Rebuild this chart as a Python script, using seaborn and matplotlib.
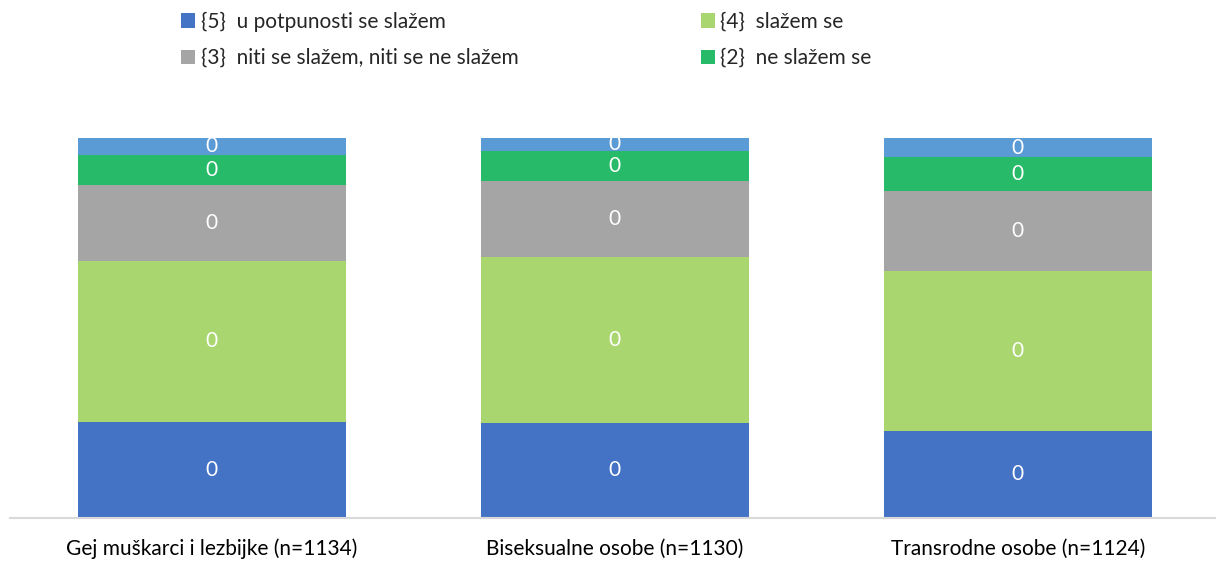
import matplotlib
matplotlib.use("Agg")
import matplotlib.pyplot as plt
import seaborn as sns
import pandas as pd
from matplotlib.patches import Patch

categories = ["Gej muškarci i lezbijke (n=1134)", "Biseksualne osobe (n=1130)", "Transrodne osobe (n=1124)"]
series_names = ["{5}  u potpunosti se slažem", "{4}  slažem se",
                "{3}  niti se slažem, niti se ne slažem", "{2}  ne slažem se", "{1}"]
v5 = [25.3, 25.0, 22.9]
v4 = [42.4, 43.7, 42.1]
v3 = [20.0, 20.0, 21.1]
v2 = [7.9, 7.9, 8.9]
v1 = [4.4, 3.4, 5.0]
data_labels = ["0", "0", "0"]

colors = ["#4472C4", "#A9D66F", "#A5A5A5", "#27BB69", "#5B9BD5"]

sns.set_theme(style="white")
plt.rcParams["font.family"] = ["Lato", "DejaVu Sans"]

fig = plt.figure(figsize=(12.16, 5.62), dpi=100)
ax = fig.add_axes([10/1216, 44/562, 1206/1216, 380/562])

values = [v5, v4, v3, v2, v1]
bottom = [0.0, 0.0, 0.0]
for name, vals, col in zip(series_names, values, colors):
    df = pd.DataFrame({"cat": categories, "val": vals})
    sns.barplot(data=df, x="cat", y="val", color=col, saturation=1, width=0.665,
                bottom=bottom, ax=ax, linewidth=0)
    ax.bar_label(ax.containers[-1], labels=data_labels, label_type="center",
                 color="white", fontsize=15)
    bottom = [b + v for b, v in zip(bottom, vals)]

ax.set_ylim(0, 100)
ax.set_xlim(-0.501, 2.492)
ax.set_xlabel("")
ax.set_ylabel("")
ax.set_yticks([])
for s in ["top", "right", "left"]:
    ax.spines[s].set_visible(False)
ax.spines["bottom"].set_color("#D9D9D9")
ax.spines["bottom"].set_linewidth(1.5)
ax.tick_params(axis="x", length=0, pad=15, labelsize=15, labelcolor="#000000")

order = [0, 2, 1, 3]
handles = [Patch(facecolor=colors[i], edgecolor="none") for i in order]
labels = [series_names[i] for i in order]
fig.legend(handles, labels, ncol=2, loc="upper left", bbox_to_anchor=(162/1216, 1.0 + 7/562),
           frameon=False, fontsize=15, handlelength=0.7, handleheight=0.7,
           handletextpad=0.25, columnspacing=8.75, labelspacing=0.78)

fig.savefig("out.png", dpi=100)
